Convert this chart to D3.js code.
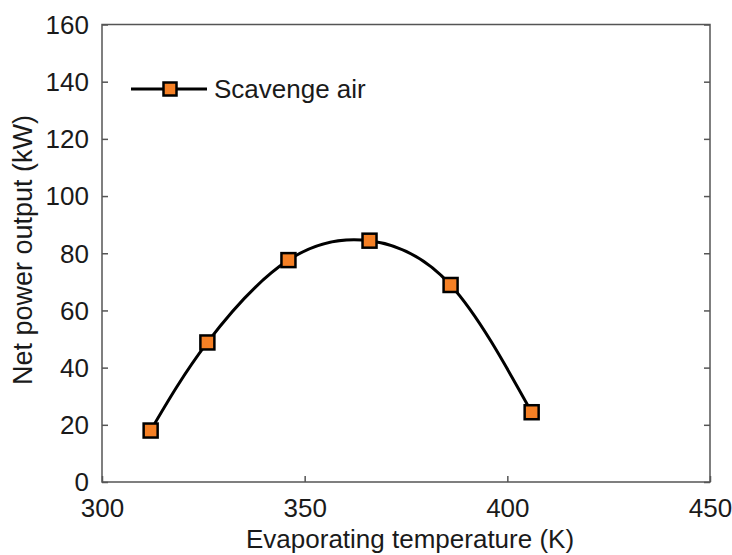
<!DOCTYPE html>
<html>
<head>
<meta charset="utf-8">
<script src="https://cdn.jsdelivr.net/npm/d3@7"></script>
<style>
  body { margin: 0; background: #fff; }
  svg text { font-family: "Liberation Sans", Arial, sans-serif; fill: #1a1a1a; }
</style>
</head>
<body>
<svg id="chart"></svg>
<script>
// data
const temps = [312, 326, 346, 366, 386, 406];
const power = [18, 48.8, 77.6, 84.4, 68.9, 24.4];
const xTicks = [300, 350, 400, 450];
const yTicks = [0, 20, 40, 60, 80, 100, 120, 140, 160];
const seriesName = "Scavenge air";

const width = 732;
const height = 555;
const margin = { left: 102, right: 22, top: 24.5, bottom: 73 };
const visWidth = width - margin.left - margin.right;
const visHeight = height - margin.top - margin.bottom;

const svg = d3.select("svg#chart").attr("width", width).attr("height", height);
const g = svg.append("g").attr("transform", "translate(" + margin.left + "," + margin.top + ")");

const x = d3.scaleLinear().domain([300, 450]).range([0, visWidth]);
const y = d3.scaleLinear().domain([0, 160]).range([visHeight, 0]);

const axisColor = "#555";

// frame
g.append("rect")
  .attr("width", visWidth).attr("height", visHeight)
  .attr("fill", "none").attr("stroke", axisColor).attr("stroke-width", 1.5);

// bottom axis
const xAxis = g.append("g")
  .attr("transform", "translate(0," + visHeight + ")")
  .call(d3.axisBottom(x).tickValues(xTicks).tickSize(-6).tickPadding(17));
// left axis
const yAxis = g.append("g")
  .call(d3.axisLeft(y).tickValues(yTicks).tickSize(-6).tickPadding(13));
// right ticks only
const yRight = g.append("g")
  .attr("transform", "translate(" + visWidth + ",0)")
  .call(d3.axisRight(y).tickValues(yTicks).tickSize(-6).tickFormat(""));

[xAxis, yAxis, yRight].forEach(a => {
  a.select(".domain").remove();
  a.selectAll(".tick line").attr("stroke", axisColor).attr("stroke-width", 1.5);
  a.selectAll("text").attr("font-size", 26).attr("fill", "#1a1a1a")
    .attr("font-family", "'Liberation Sans', Arial, sans-serif");
});
yAxis.selectAll("text").attr("dy", "0.34em");

// curve through the points
const pts = temps.map((t, i) => ({ t: t, p: power[i] }));
const line = d3.line().x(d => x(d.t)).y(d => y(d.p)).curve(d3.curveNatural);

g.append("path")
  .datum(pts)
  .attr("d", line)
  .attr("fill", "none")
  .attr("stroke", "#000")
  .attr("stroke-width", 3);

const orange = "#f58025";
const mk = 14;
g.selectAll("rect.pt")
  .data(pts)
  .enter().append("rect")
  .attr("class", "pt")
  .attr("x", d => x(d.t) - mk / 2)
  .attr("y", d => y(d.p) - mk / 2)
  .attr("width", mk).attr("height", mk)
  .attr("fill", orange)
  .attr("stroke", "#000")
  .attr("stroke-width", 2.5);

// legend
const leg = svg.append("g").attr("transform", "translate(131,89)");
leg.append("line").attr("x1", 0).attr("x2", 76).attr("y1", 0).attr("y2", 0)
  .attr("stroke", "#000").attr("stroke-width", 3);
leg.append("rect").attr("x", 39 - 6.5).attr("y", -6.5).attr("width", 13).attr("height", 13)
  .attr("fill", orange).attr("stroke", "#000").attr("stroke-width", 2.5);
leg.append("text").attr("x", 83).attr("y", 0).attr("dy", "0.35em")
  .attr("font-size", 26).text(seriesName);

// axis labels
svg.append("text")
  .attr("x", margin.left + x(376)).attr("y", 548)
  .attr("text-anchor", "middle").attr("font-size", 26)
  .text("Evaporating temperature (K)");

svg.append("text")
  .attr("transform", "translate(32,250) rotate(-90)")
  .attr("text-anchor", "middle").attr("font-size", 27)
  .text("Net power output (kW)");
</script>
</body>
</html>
